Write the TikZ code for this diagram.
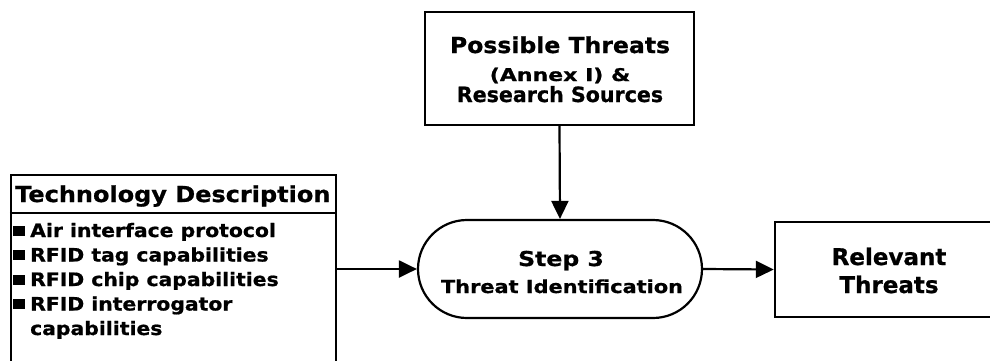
\documentclass[tikz,border=0pt]{standalone}
\usepackage{fontspec}
\setmainfont{DejaVu Sans}
\usetikzlibrary{arrows.meta,shapes.misc}
\newcommand{\sqbullet}{\makebox[18pt][l]{\hspace{1pt}\raisebox{1.5pt}{\rule{12pt}{10pt}}}}
\begin{document}
\begin{tikzpicture}[x=1pt,y=-1pt,
  box/.style={draw,line width=2.4pt,rectangle,inner sep=0pt},
  pill/.style={draw,line width=2.2pt,rounded rectangle,inner sep=0pt},
  flow/.style={line width=2.2pt,-{Triangle[length=18pt,width=17pt]}},
  txt/.style={inner sep=0pt,anchor=base},
  lefttxt/.style={inner sep=0pt,anchor=base west},
  sz/.style 2 args={font=\bfseries\addfontfeatures{FakeStretch=#2,FakeBold=0.8}\fontsize{#1}{#1}\selectfont},
]
\clip (0,0) rectangle (990,360);
\fill[white] (0,0) rectangle (990,360);

% Input: possible threats
\node[box,minimum width=269pt,minimum height=113pt] (threats) at (559.5,68.5) {};
\node[txt,sz={22}{1.07}] (threats-a) at (560,53) {Possible Threats};
\node[txt,sz={17.5}{1.26}] (threats-b) at (560,81) {(Annex I) \&};
\node[txt,sz={21}{0.98}] (threats-c) at (560,102) {Research Sources};

% Input: technology description (box runs past the lower edge)
\node[box,minimum width=325pt,minimum height=200pt] (tech) at (11+162.5,175+100) {};
\draw[line width=1.4pt] (tech.west |- 0,213) -- (tech.east |- 0,213);
\node[lefttxt,sz={22}{1.09}] (tech-head) at (15,202) {Technology Description};
\node[lefttxt,sz={18.5}{1.1}] (tech-1) at (12,237) {\sqbullet Air interface protocol};
\node[lefttxt,sz={18.5}{1.1}] (tech-2) at (12,261.5) {\sqbullet RFID tag capabilities};
\node[lefttxt,sz={18.5}{1.1}] (tech-3) at (12,286) {\sqbullet RFID chip capabilities};
\node[lefttxt,sz={18.5}{1.1}] (tech-4) at (12,310.5) {\sqbullet RFID interrogator};
\node[lefttxt,sz={18.5}{1.1}] (tech-5) at (12,335) {\makebox[18pt][l]{}capabilities};

% Process step
\node[pill,minimum width=284pt,minimum height=98pt] (step) at (560,269) {};
\node[txt,sz={20.5}{1.15}] (step-a) at (561,266) {Step 3};
\node[txt,sz={18}{1.16}] (step-b) at (562,293) {Threat Identification};

% Output
\node[box,minimum width=228pt,minimum height=95pt] (rel) at (775+114,269.5) {};
\node[txt,sz={23}{1.0}] (rel-a) at (889,265) {Relevant};
\node[txt,sz={23}{1.0}] (rel-b) at (889,293) {Threats};

% Connectors
\draw[flow] (threats.south) -- (step.north);
\draw[flow] (tech.east |- step.west) -- (step.west);
\draw[flow] (step.east) -- (rel.west);
\end{tikzpicture}
\end{document}
